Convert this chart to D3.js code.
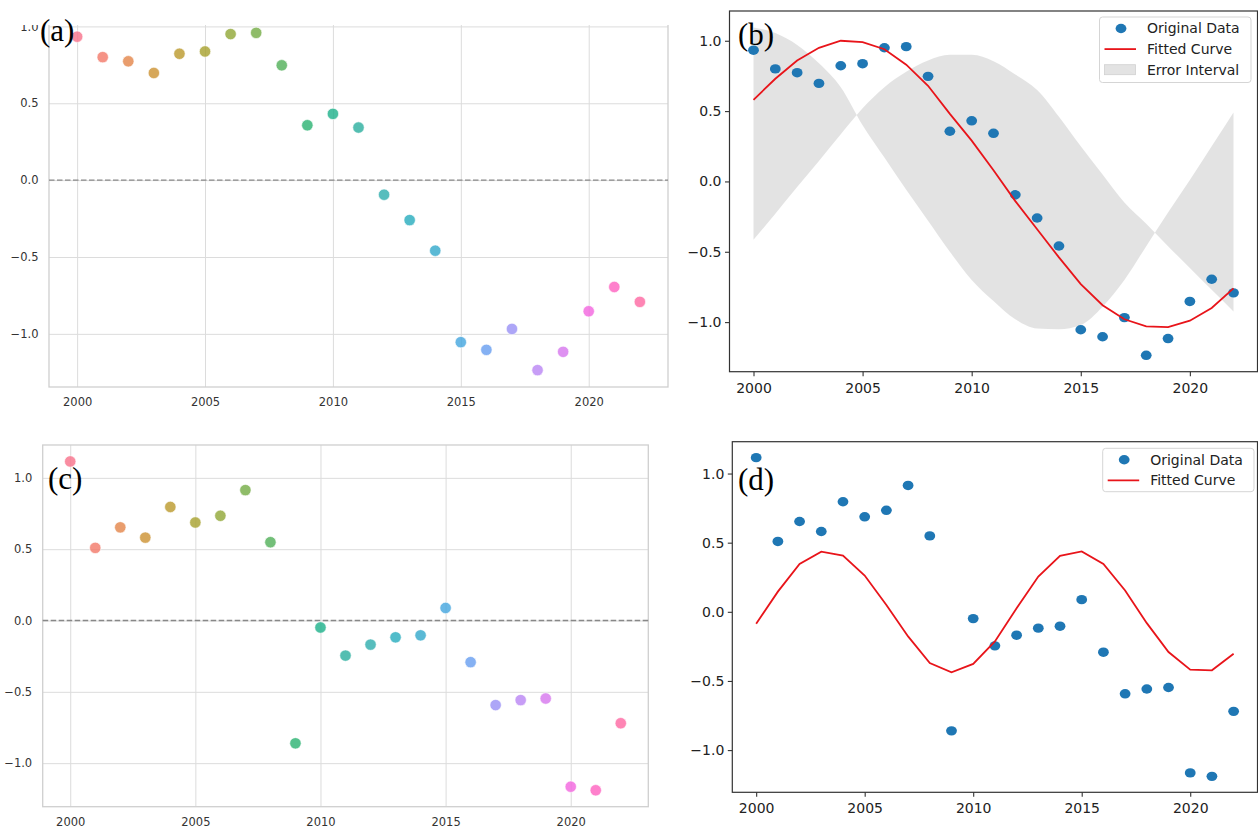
<!DOCTYPE html>
<html>
<head>
<meta charset="utf-8">
<script src="https://cdn.jsdelivr.net/npm/d3@7"></script>
<style>
body { margin: 0; background: #fff; }
svg { display: block; font-family: "DejaVu Sans", sans-serif; }
</style>
</head>
<body>
<script>
// ---- data ----
var years = [2000, 2001, 2002, 2003, 2004, 2005, 2006, 2007, 2008, 2009, 2010, 2011,
    2012, 2013, 2014, 2015, 2016, 2017, 2018, 2019, 2020, 2021, 2022];

// top row: original series, fitted curve, error interval bounds
var seriesTop = [0.933, 0.800, 0.773, 0.697, 0.822, 0.837, 0.950, 0.958, 0.747, 0.357, 0.431, 0.342,
    -0.095, -0.260, -0.459, -1.054, -1.104, -0.968, -1.236, -1.117, -0.853, -0.695, -0.792];
var fitTop = [0.58, 0.73, 0.86, 0.95, 1.00, 0.99, 0.94, 0.83, 0.68, 0.48, 0.29, 0.08,
    -0.14, -0.34, -0.54, -0.73, -0.88, -0.98, -1.03, -1.035, -0.99, -0.90, -0.76];
var bandOne = [1.095, 1.055, 0.97, 0.84, 0.67, 0.40, 0.17, -0.06, -0.28, -0.50, -0.70, -0.85,
    -0.98, -1.045, -1.05, -1.02, -0.89, -0.70, -0.46, -0.22, 0.01, 0.25, 0.49];
var bandTwo = [-0.414, -0.23, -0.04, 0.145, 0.335, 0.52, 0.67, 0.78, 0.86, 0.90, 0.90, 0.855,
    0.76, 0.65, 0.46, 0.25, 0.05, -0.15, -0.30, -0.46, -0.615, -0.77, -0.924];

// bottom row
var seriesBottom = [1.115, 0.509, 0.653, 0.581, 0.796, 0.687, 0.734, 0.914, 0.549, -0.861, -0.049, -0.246,
    -0.169, -0.118, -0.104, 0.088, -0.292, -0.593, -0.558, -0.547, -1.165, -1.190, -0.720];
var fitBottom = [-0.087, 0.146, 0.346, 0.435, 0.406, 0.262, 0.050, -0.178, -0.370, -0.437, -0.377, -0.214,
    0.026, 0.255, 0.404, 0.437, 0.346, 0.154, -0.082, -0.291, -0.418, -0.423, -0.303];

var xTicks = [2000, 2005, 2010, 2015, 2020];
var yTicks = [-1.0, -0.5, 0.0, 0.5, 1.0];
var legendTop = ['Original Data', 'Fitted Curve', 'Error Interval'];
var legendBottom = ['Original Data', 'Fitted Curve'];
var panelLabels = ['(a)', '(b)', '(c)', '(d)'];

// ---- setup ----
var width = 1258, height = 830;

var svg = d3.select('body')
    .append('svg')
    .attr('width', width)
    .attr('height', height);

var defs = svg.append('defs');

// husl-like palette, one colour per year
var huslAnchors = ['#f77189', '#ce9032', '#97a431', '#32b166', '#36ada4', '#39a7d0', '#a48cf4', '#f561dd'];
var huslColor = function(i, n) {
    var t = i * huslAnchors.length / n, j = Math.floor(t);
    return d3.interpolateHcl(huslAnchors[j], huslAnchors[(j + 1) % huslAnchors.length])(t - j);
};

var padded = function(lo, hi) {
    var m = (hi - lo) * 0.05;
    return [lo - m, hi + m];
};

var fmt = d3.format('.1f');

// seaborn "whitegrid" style scatter panel
var seabornPanel = function(box, values, clipTop, label, labelPos) {
    var x = d3.scaleLinear()
        .domain(padded(d3.min(years), d3.max(years)))
        .range([box.left, box.right]);
    var y = d3.scaleLinear()
        .domain(padded(d3.min(values), d3.max(values)))
        .range([box.bottom, box.top]);

    var g = svg.append('g');
    if (clipTop !== null) {
        var id = 'clip' + label.replace(/\W/g, '');
        defs.append('clipPath').attr('id', id)
            .append('rect')
            .attr('x', 0).attr('y', clipTop)
            .attr('width', box.right + 30).attr('height', box.bottom + 40 - clipTop);
        g.attr('clip-path', 'url(#' + id + ')');
    }

    // grid
    g.append('g')
        .attr('transform', 'translate(0,' + box.bottom + ')')
        .call(d3.axisBottom(x).tickValues(xTicks).tickSize(-(box.bottom - box.top)).tickFormat(''))
        .call(function(a) { a.select('.domain').remove(); })
        .selectAll('line').style('stroke', '#dcdcdc').style('stroke-width', 1);
    g.append('g')
        .attr('transform', 'translate(' + box.left + ',0)')
        .call(d3.axisLeft(y).tickValues(yTicks).tickSize(-(box.right - box.left)).tickFormat(''))
        .call(function(a) { a.select('.domain').remove(); })
        .selectAll('line').style('stroke', '#dcdcdc').style('stroke-width', 1);

    // spines
    g.append('rect')
        .attr('x', box.left).attr('y', box.top)
        .attr('width', box.right - box.left).attr('height', box.bottom - box.top)
        .style('fill', 'none').style('stroke', '#cfcfcf').style('stroke-width', 1.3);

    // zero line
    g.append('line')
        .attr('x1', box.left).attr('x2', box.right)
        .attr('y1', y(0)).attr('y2', y(0))
        .style('stroke', '#888').style('stroke-width', 1.3)
        .style('stroke-dasharray', '5.5,2.5');

    // tick labels
    var xa = g.append('g')
        .attr('transform', 'translate(0,' + box.bottom + ')')
        .call(d3.axisBottom(x).tickValues(xTicks).tickSize(0).tickPadding(11).tickFormat(d3.format('d')));
    var ya = g.append('g')
        .attr('transform', 'translate(' + box.left + ',0)')
        .call(d3.axisLeft(y).tickValues(yTicks).tickSize(0).tickPadding(10.5).tickFormat(fmt));
    [xa, ya].forEach(function(a) {
        a.select('.domain').remove();
        a.attr('font-family', '"DejaVu Sans", sans-serif').attr('font-size', 11.5);
        a.selectAll('text').style('fill', '#333');
    });

    // points
    g.append('g').selectAll('circle')
        .data(values)
        .join('circle')
        .attr('cx', function(d, i) { return x(years[i]); })
        .attr('cy', function(d) { return y(d); })
        .attr('r', 5.7)
        .style('fill', function(d, i) { return huslColor(i, years.length); })
        .style('fill-opacity', 0.8)
        .style('stroke', '#fff')
        .style('stroke-width', 0.6);

    svg.append('text')
        .attr('x', labelPos[0]).attr('y', labelPos[1])
        .style('font-family', '"Liberation Serif", "Times New Roman", serif')
        .style('font-size', '31px')
        .style('fill', '#000')
        .text(label);
};

// matplotlib default style panel with fitted curve
var fitPanel = function(box, values, fit, band, legendItems, legendBox, label, labelPos) {
    var all = values.concat(fit);
    if (band) { all = all.concat(band[0], band[1]); }
    var x = d3.scaleLinear()
        .domain(padded(d3.min(years), d3.max(years)))
        .range([box.left, box.right]);
    var y = d3.scaleLinear()
        .domain(padded(d3.min(all), d3.max(all)))
        .range([box.bottom, box.top]);

    var g = svg.append('g');

    if (band) {
        g.append('path')
            .datum(years)
            .attr('d', d3.area()
                .curve(d3.curveMonotoneX)
                .x(function(d) { return x(d); })
                .y0(function(d, i) { return y(band[1][i]); })
                .y1(function(d, i) { return y(band[0][i]); }))
            .style('fill', 'gray')
            .style('fill-opacity', 0.22);
    }

    g.append('g').selectAll('ellipse')
        .data(values)
        .join('ellipse')
        .attr('cx', function(d, i) { return x(years[i]); })
        .attr('cy', function(d) { return y(d); })
        .attr('rx', 5.4)
        .attr('ry', 4.7)
        .style('fill', '#1f77b4');

    g.append('path')
        .datum(fit)
        .attr('d', d3.line()
            .x(function(d, i) { return x(years[i]); })
            .y(function(d) { return y(d); }))
        .style('fill', 'none')
        .style('stroke', '#e8141a')
        .style('stroke-width', 1.8);

    // frame
    g.append('rect')
        .attr('x', box.left).attr('y', box.top)
        .attr('width', box.right - box.left).attr('height', box.bottom - box.top)
        .style('fill', 'none').style('stroke', '#333').style('stroke-width', 1.2);

    var xa = g.append('g')
        .attr('transform', 'translate(0,' + box.bottom + ')')
        .call(d3.axisBottom(x).tickValues(xTicks).tickSize(4.5).tickPadding(6.5).tickFormat(d3.format('d')));
    var ya = g.append('g')
        .attr('transform', 'translate(' + box.left + ',0)')
        .call(d3.axisLeft(y).tickValues(yTicks).tickSize(4.5).tickPadding(3.5).tickFormat(fmt));
    [xa, ya].forEach(function(a) {
        a.select('.domain').remove();
        a.attr('font-family', '"DejaVu Sans", sans-serif').attr('font-size', 14);
        a.selectAll('text').style('fill', '#222');
        a.selectAll('line').style('stroke', '#333').style('stroke-width', 1.1);
    });

    // legend
    var lg = g.append('g').attr('transform', 'translate(' + legendBox.x + ',' + legendBox.y + ')');
    lg.append('rect')
        .attr('width', legendBox.w).attr('height', legendBox.h).attr('rx', 3)
        .style('fill', '#fff').style('fill-opacity', 0.85)
        .style('stroke', '#d5d5d5').style('stroke-width', 1);
    var rows = lg.selectAll('g.row')
        .data(legendItems)
        .join('g')
        .attr('class', 'row')
        .attr('transform', function(d, i) { return 'translate(0,' + (11.5 + i * 20.6) + ')'; });
    rows.append('text')
        .attr('x', 47.5).attr('dy', '0.35em')
        .style('font-size', '14px').style('fill', '#222')
        .text(function(d) { return d; });
    rows.filter(function(d, i) { return i === 0; })
        .append('ellipse').attr('cx', 21.5).attr('rx', 5.4).attr('ry', 4.7)
        .style('fill', '#1f77b4');
    rows.filter(function(d, i) { return i === 1; })
        .append('line').attr('x1', 5).attr('x2', 36.5)
        .style('stroke', '#e8141a').style('stroke-width', 1.8);
    rows.filter(function(d, i) { return i === 2; })
        .append('rect').attr('x', 5).attr('y', -5).attr('width', 31).attr('height', 10)
        .style('fill', 'gray').style('fill-opacity', 0.22)
        .style('stroke', '#d0d0d0').style('stroke-width', 0.8);

    svg.append('text')
        .attr('x', labelPos[0]).attr('y', labelPos[1])
        .style('font-family', '"Liberation Serif", "Times New Roman", serif')
        .style('font-size', '31px')
        .style('fill', '#000')
        .text(label);
};

// ---- panels ----
seabornPanel({left: 49, right: 668, top: 16, bottom: 387}, seriesTop, 25, panelLabels[0], [40, 41]);

fitPanel({left: 729.5, right: 1257.5, top: 11, bottom: 371.7}, seriesTop, fitTop, [bandOne, bandTwo],
    legendTop, {x: 1099.5, y: 17, w: 151.5, h: 65.5}, panelLabels[1], [738, 44.5]);

seabornPanel({left: 42.7, right: 648.3, top: 445, bottom: 806.7}, seriesBottom, null, panelLabels[2], [48, 488.5]);

fitPanel({left: 732.3, right: 1257.5, top: 441.7, bottom: 792.3}, seriesBottom, fitBottom, null,
    legendBottom, {x: 1102.7, y: 448.3, w: 151.3, h: 43.4}, panelLabels[3], [738, 490]);
</script>
</body>
</html>
